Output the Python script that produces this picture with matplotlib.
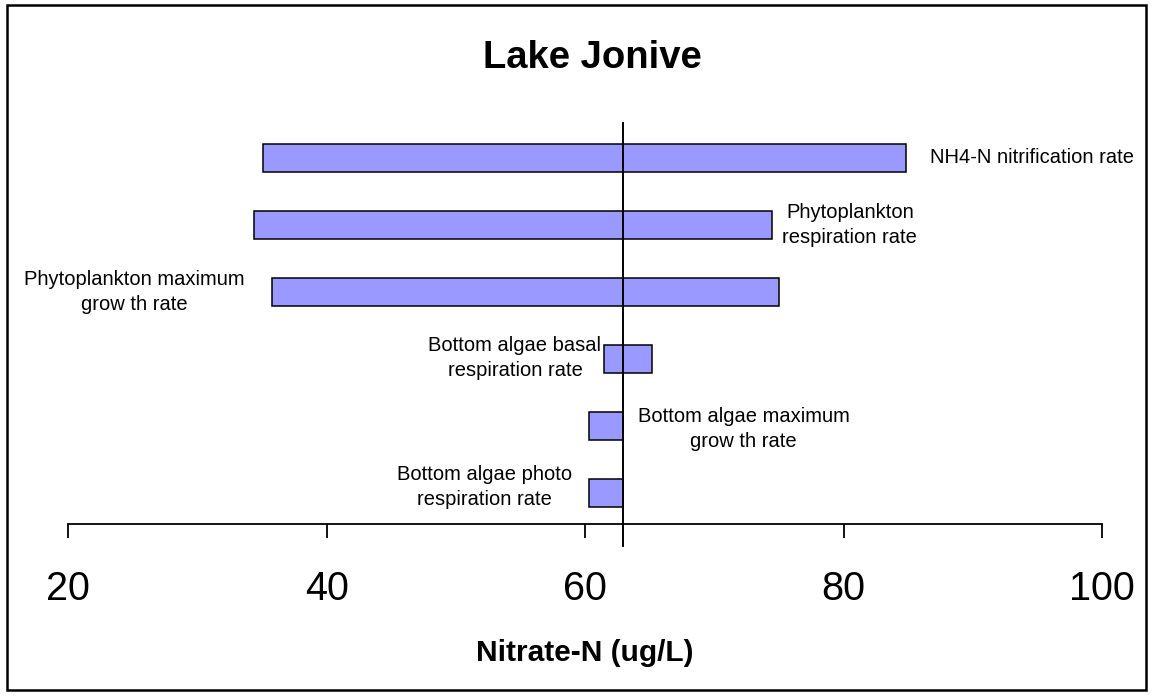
import numpy as np
import matplotlib.pyplot as plt
from matplotlib.patches import Rectangle

plt.rcParams['font.family'] = ['Liberation Sans', 'DejaVu Sans']

# sensitivity of nitrate-N to each parameter (low / high run), ug/L
params = ["NH4-N nitrification rate",
          "Phytoplankton\nrespiration rate",
          "Phytoplankton maximum\ngrow th rate",
          "Bottom algae basal\nrespiration rate",
          "Bottom algae maximum\ngrow th rate",
          "Bottom algae photo\nrespiration rate"]
low = [35.1, 34.4, 35.8, 61.5, 60.3, 60.3]
high = [84.8, 74.5, 75.0, 65.2, 62.9, 62.9]
base = 62.9
xticks = [20, 40, 60, 80, 100]

# label placement: side of the bar, gap (px), vertical nudge (px, up +)
label_side = ['right', 'right', 'left', 'left', 'right', 'left']
label_gap = [24, 10, 28, 3, 15, 17]
label_dy = [0, 0, 0, 1, -3, 6]

fig = plt.figure(figsize=(11.53, 6.96), dpi=100)
ax = fig.add_axes([0.0592, 0.2471, 0.8965, 0.5762])

ypos = np.arange(len(params), 0, -1)
ax.barh(ypos, np.array(high) - np.array(low), left=low, height=0.41,
        color='#9999FF', edgecolor='black', linewidth=1.1, zorder=2)

ax.set_xlim(20, 100)
ax.set_ylim(0.537, 6.522)
for s in ['left', 'right', 'top']:
    ax.spines[s].set_visible(False)
ax.spines['bottom'].set_linewidth(1.3)
ax.set_yticks([])
ax.set_xticks(xticks)
ax.tick_params(axis='x', direction='out', length=10, width=1.3, pad=23, labelsize=28.5)

ax.axvline(base, ymin=-0.055, ymax=1, color='black', lw=1.4, clip_on=False, zorder=3)

for i, lab in enumerate(params):
    if label_side[i] == 'right':
        x, off, ha = high[i], label_gap[i] * 0.72, 'left'
    else:
        x, off, ha = low[i], -label_gap[i] * 0.72, 'right'
    ax.annotate(lab, (x, ypos[i]), xytext=(off, label_dy[i] * 0.72),
                textcoords='offset points', ha=ha, va='center',
                multialignment='center', fontsize=14.5, linespacing=1.4)

fig.text(0.514, 0.9023, 'Lake Jonive', ha='center', va='baseline',
         fontsize=27.5, fontweight='bold')
ax.set_xlabel('Nitrate-N (ug/L)', fontsize=21.5, fontweight='bold', va='baseline')
ax.xaxis.set_label_coords(0.5, -0.3416)

fig.add_artist(Rectangle((0.0061, 0.0086), 0.9879, 0.9842, transform=fig.transFigure,
                         fill=False, lw=1.8, ec='black'))

fig.savefig('out.png', dpi=100)
